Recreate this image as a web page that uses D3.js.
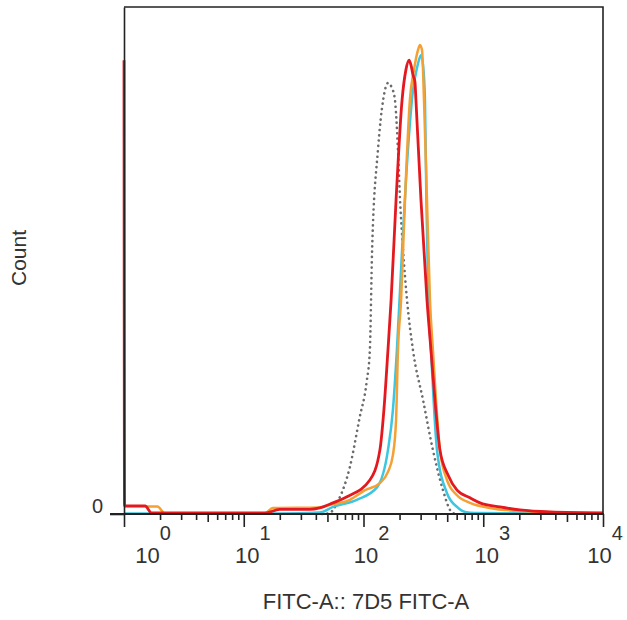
<!DOCTYPE html>
<html>
<head>
<meta charset="utf-8">
<script src="https://cdn.jsdelivr.net/npm/d3@7"></script>
<style>
  body { margin: 0; background: white; }
  text { font-family: "Liberation Sans", Arial, sans-serif; fill: #333; }
</style>
</head>
<body>
<div class="svg"></div>
<script>
// values: [FITC-A value, count (% of max)]
const decades = [1, 10, 100, 1000, 10000];
const exponents = ['0', '1', '2', '3', '4'];
const yTicks = [0];

const isotype = [[45, 0], [52, 0.2], [62, 2.8], [77, 9.3], [93, 19.1], [106, 25.9], [113, 32.3], [118, 52.1], [132, 71.8],
  [146, 81.7], [160, 85], [173, 84], [183, 81.7], [194, 71.8], [202, 61.9], [214, 52.1], [231, 42.2], [259, 32.3],
  [314, 22.5], [380, 12.6], [461, 4.7], [528, 0.8], [581, 0]];

const cyanSeries = [[1, 0.1], [20, 0.1], [43, 0.3], [55.6, 1.4], [88, 2.8], [130, 5.3], [160, 12.6], [176, 20.5], [190, 32.3],
  [210, 52.1], [235, 71.8], [259, 83.6], [280, 88], [290, 89.5], [302, 90.5], [314, 88.6], [326, 81.7], [335, 61.9],
  [348, 42.2], [366, 32.3], [411, 12.6], [498, 4.1], [604, 1.4], [705, 0.4], [850, 0.2], [10000, 0.1]];

const orangeSeries = [[1, 1.5], [1.9, 1.5], [2.2, 0.1], [15, 0.1], [17.5, 1.2], [43, 1.3], [52.5, 1.8], [77, 2.8], [103, 4.7],
  [137, 6.1], [160, 8.3], [176, 11.6], [187, 18.5], [194, 32.3], [206, 42.2], [222, 61.9], [244, 81.7], [264, 87.6],
  [285, 91.5], [296, 92.5], [308, 91.5], [320, 81.7], [339, 61.9], [359, 42.2], [380, 32.3], [403, 22.5], [435, 12.6],
  [498, 6.7], [604, 3.7], [775, 2.2], [1138, 1.2], [2026, 0.6], [10000, 0.2]];

const redSeries = [[1, 89.5], [1.01, 1.6], [1.5, 1.6], [1.7, 0.2], [15, 0.2], [20, 0.9], [35.7, 0.9], [43, 1.2], [55.6, 2.2],
  [72.8, 3.4], [113, 6.7], [137, 12.6], [148, 20.5], [160, 32.3], [170, 42.2], [187, 61.9], [210, 81.7], [226, 87.6],
  [240, 89.5], [249, 88.6], [259, 86.6], [269, 85.2], [274, 81.7], [302, 61.9], [339, 42.2], [366, 32.3], [395, 22.5],
  [435, 12.6], [508, 7.7], [604, 4.7], [775, 3.2], [939, 2.2], [1380, 1.4], [2026, 0.8], [3606, 0.4], [10000, 0.2]];

const w = 627;
const h = 620;
const plotLeft = 124, plotRight = 603, plotTop = 7, plotBottom = 514;

const svg = d3.select('.svg').append('svg').attr('width', w).attr('height', h);

const xScale = d3.scaleLog().domain([1, 10000]).range([plotLeft, plotRight]);
const yScale = d3.scaleLinear().domain([0, 100]).range([plotBottom, plotTop]);

const line = d3.line().x(d => xScale(d[0])).y(d => yScale(d[1])).curve(d3.curveMonotoneX);

// curves
svg.append('path').datum(isotype).attr('d', line).attr('fill', 'none')
  .attr('stroke', '#6b6b6b').attr('stroke-width', 2.6).attr('stroke-dasharray', '0.1 5.2').attr('stroke-linecap', 'round');
svg.append('path').datum(cyanSeries).attr('d', line).attr('fill', 'none').attr('stroke', '#3cc6df').attr('stroke-width', 2.5);
svg.append('path').datum(orangeSeries).attr('d', line).attr('fill', 'none').attr('stroke', '#f5a033').attr('stroke-width', 2.5);
svg.append('path').datum(redSeries).attr('d', line).attr('fill', 'none').attr('stroke', '#e3191f').attr('stroke-width', 2.8);

// frame (top and right)
svg.append('path').attr('d', `M${plotLeft},${plotTop}H${plotRight}V${plotBottom}`).attr('fill', 'none').attr('stroke', '#222').attr('stroke-width', 1.6);

// x axis: majors, fives, other minors
const minors = [];
decades.slice(0, 4).forEach(d => d3.range(2, 10).forEach(m => minors.push(d * m)));
const fives = minors.filter(v => Math.round(v / Math.pow(10, Math.floor(Math.log10(v) + 1e-9))) === 5);
const smalls = minors.filter(v => !fives.includes(v));

const addTicks = (vals, size) => {
  const g = svg.append('g').attr('transform', `translate(0, ${plotBottom})`)
    .call(d3.axisBottom(xScale).tickValues(vals).tickSize(size).tickFormat(''));
  g.select('.domain').remove();
  g.selectAll('line').attr('stroke', '#222').attr('stroke-width', 1.6);
};
addTicks(smalls, 6);
addTicks(fives, 8);
addTicks(decades, 13);
svg.append('line').attr('x1', plotLeft - 14).attr('x2', plotRight + 1).attr('y1', plotBottom).attr('y2', plotBottom)
  .attr('stroke', '#222').attr('stroke-width', 1.8);

// y axis: left line and single 0 tick
const yAxis = svg.append('g').attr('transform', `translate(${plotLeft}, 0)`)
  .call(d3.axisLeft(yScale).tickValues(yTicks).tickSize(14).tickSizeOuter(0).tickFormat(d3.format('d')));
yAxis.select('.domain').attr('stroke', '#222').attr('stroke-width', 1.6);
yAxis.selectAll('line').attr('stroke', '#222').attr('stroke-width', 1.6);
yAxis.selectAll('text').attr('font-size', 20).attr('x', -21).attr('dy', '-0.1em').style('fill', '#333');

// decade labels 10^k
const labelShift = [29, 9, 8, 9, 2];
const labels = svg.append('g').selectAll('text').data(decades).enter().append('text')
  .attr('x', (d, i) => xScale(d) + labelShift[i]).attr('y', 563).attr('text-anchor', 'middle');
labels.append('tspan').attr('font-size', 22).text('10');
labels.append('tspan').attr('font-size', 20).attr('dy', -23).text((d, i) => exponents[i]);

// axis titles
svg.append('text').attr('x', 366).attr('y', 609).attr('text-anchor', 'middle').attr('font-size', 22).text('FITC-A:: 7D5 FITC-A');
svg.append('text').attr('transform', 'translate(26, 258) rotate(-90)').attr('text-anchor', 'middle').attr('font-size', 21).text('Count');
</script>
</body>
</html>
